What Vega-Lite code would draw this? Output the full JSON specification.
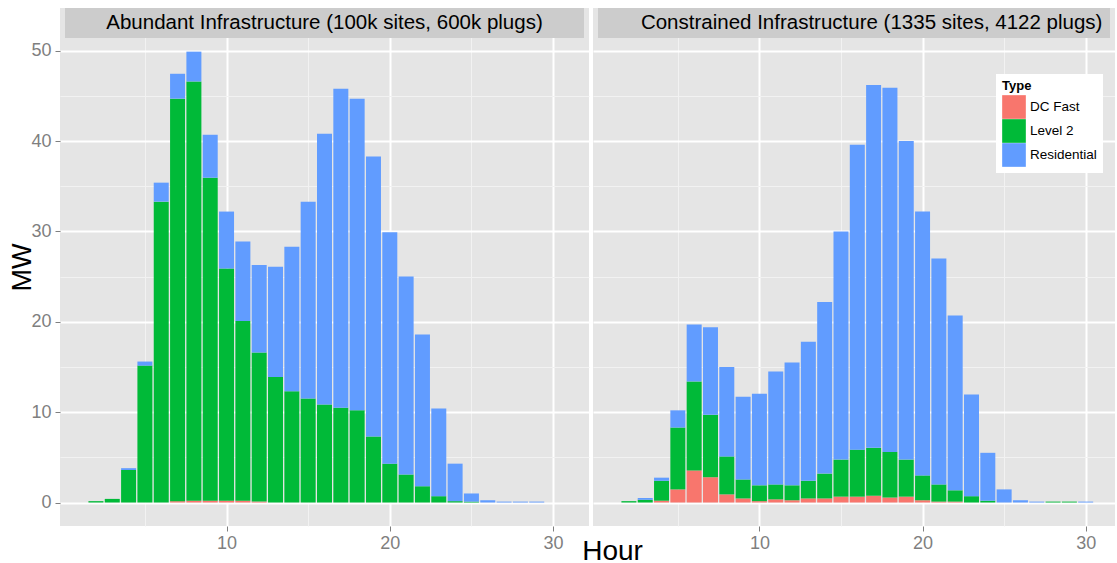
{
  "$schema": "https://vega.github.io/schema/vega-lite/v6.json",
  "background": "white",
  "padding": {"left": 8, "top": 8, "right": 0, "bottom": 0},
  "config": {
    "font": "Liberation Sans",
    "view": {"fill": "#E5E5E5", "stroke": null},
    "axis": {"domain": false, "tickColor": "#7F7F7F", "tickSize": 5, "labelColor": "#7F7F7F", "labelFontSize": 18, "labelFont": "Liberation Sans", "titleFont": "Liberation Sans", "titleFontWeight": "normal", "titleFontSize": 27, "titleColor": "black", "labelOverlap": false, "labelFlush": false}
  },
  "datasets": {
    "ev": [
      {"p": "A", "hour": 2, "type": "Level 2", "mw": 0.15},
      {"p": "A", "hour": 3, "type": "Level 2", "mw": 0.4},
      {"p": "A", "hour": 4, "type": "Level 2", "mw": 3.6},
      {"p": "A", "hour": 4, "type": "Residential", "mw": 0.2},
      {"p": "A", "hour": 5, "type": "Level 2", "mw": 15.15},
      {"p": "A", "hour": 5, "type": "Residential", "mw": 0.45},
      {"p": "A", "hour": 6, "type": "Level 2", "mw": 33.3},
      {"p": "A", "hour": 6, "type": "Residential", "mw": 2.1},
      {"p": "A", "hour": 7, "type": "DC Fast", "mw": 0.15},
      {"p": "A", "hour": 7, "type": "Level 2", "mw": 44.55},
      {"p": "A", "hour": 7, "type": "Residential", "mw": 2.75},
      {"p": "A", "hour": 8, "type": "DC Fast", "mw": 0.2},
      {"p": "A", "hour": 8, "type": "Level 2", "mw": 46.4},
      {"p": "A", "hour": 8, "type": "Residential", "mw": 3.3},
      {"p": "A", "hour": 9, "type": "DC Fast", "mw": 0.2},
      {"p": "A", "hour": 9, "type": "Level 2", "mw": 35.75},
      {"p": "A", "hour": 9, "type": "Residential", "mw": 4.75},
      {"p": "A", "hour": 10, "type": "DC Fast", "mw": 0.2},
      {"p": "A", "hour": 10, "type": "Level 2", "mw": 25.7},
      {"p": "A", "hour": 10, "type": "Residential", "mw": 6.3},
      {"p": "A", "hour": 11, "type": "DC Fast", "mw": 0.2},
      {"p": "A", "hour": 11, "type": "Level 2", "mw": 19.9},
      {"p": "A", "hour": 11, "type": "Residential", "mw": 8.8},
      {"p": "A", "hour": 12, "type": "DC Fast", "mw": 0.1},
      {"p": "A", "hour": 12, "type": "Level 2", "mw": 16.5},
      {"p": "A", "hour": 12, "type": "Residential", "mw": 9.7},
      {"p": "A", "hour": 13, "type": "Level 2", "mw": 13.9},
      {"p": "A", "hour": 13, "type": "Residential", "mw": 12.2},
      {"p": "A", "hour": 14, "type": "Level 2", "mw": 12.3},
      {"p": "A", "hour": 14, "type": "Residential", "mw": 16.0},
      {"p": "A", "hour": 15, "type": "Level 2", "mw": 11.5},
      {"p": "A", "hour": 15, "type": "Residential", "mw": 21.8},
      {"p": "A", "hour": 16, "type": "Level 2", "mw": 10.85},
      {"p": "A", "hour": 16, "type": "Residential", "mw": 29.95},
      {"p": "A", "hour": 17, "type": "Level 2", "mw": 10.5},
      {"p": "A", "hour": 17, "type": "Residential", "mw": 35.3},
      {"p": "A", "hour": 18, "type": "Level 2", "mw": 10.2},
      {"p": "A", "hour": 18, "type": "Residential", "mw": 34.5},
      {"p": "A", "hour": 19, "type": "Level 2", "mw": 7.3},
      {"p": "A", "hour": 19, "type": "Residential", "mw": 31.0},
      {"p": "A", "hour": 20, "type": "Level 2", "mw": 4.3},
      {"p": "A", "hour": 20, "type": "Residential", "mw": 25.6},
      {"p": "A", "hour": 21, "type": "Level 2", "mw": 3.1},
      {"p": "A", "hour": 21, "type": "Residential", "mw": 21.9},
      {"p": "A", "hour": 22, "type": "Level 2", "mw": 1.8},
      {"p": "A", "hour": 22, "type": "Residential", "mw": 16.8},
      {"p": "A", "hour": 23, "type": "Level 2", "mw": 0.7},
      {"p": "A", "hour": 23, "type": "Residential", "mw": 9.7},
      {"p": "A", "hour": 24, "type": "Level 2", "mw": 0.15},
      {"p": "A", "hour": 24, "type": "Residential", "mw": 4.15},
      {"p": "A", "hour": 25, "type": "Level 2", "mw": 0.1},
      {"p": "A", "hour": 25, "type": "Residential", "mw": 0.9},
      {"p": "A", "hour": 26, "type": "Residential", "mw": 0.25},
      {"p": "A", "hour": 27, "type": "Residential", "mw": 0.1},
      {"p": "A", "hour": 28, "type": "Residential", "mw": 0.1},
      {"p": "A", "hour": 29, "type": "Residential", "mw": 0.1},
      {"p": "C", "hour": 2, "type": "Level 2", "mw": 0.15},
      {"p": "C", "hour": 3, "type": "Level 2", "mw": 0.3},
      {"p": "C", "hour": 3, "type": "Residential", "mw": 0.2},
      {"p": "C", "hour": 4, "type": "DC Fast", "mw": 0.2},
      {"p": "C", "hour": 4, "type": "Level 2", "mw": 2.2},
      {"p": "C", "hour": 4, "type": "Residential", "mw": 0.35},
      {"p": "C", "hour": 5, "type": "DC Fast", "mw": 1.45},
      {"p": "C", "hour": 5, "type": "Level 2", "mw": 6.85},
      {"p": "C", "hour": 5, "type": "Residential", "mw": 1.9},
      {"p": "C", "hour": 6, "type": "DC Fast", "mw": 3.55},
      {"p": "C", "hour": 6, "type": "Level 2", "mw": 9.85},
      {"p": "C", "hour": 6, "type": "Residential", "mw": 6.3},
      {"p": "C", "hour": 7, "type": "DC Fast", "mw": 2.8},
      {"p": "C", "hour": 7, "type": "Level 2", "mw": 6.9},
      {"p": "C", "hour": 7, "type": "Residential", "mw": 9.7},
      {"p": "C", "hour": 8, "type": "DC Fast", "mw": 0.9},
      {"p": "C", "hour": 8, "type": "Level 2", "mw": 4.2},
      {"p": "C", "hour": 8, "type": "Residential", "mw": 9.9},
      {"p": "C", "hour": 9, "type": "DC Fast", "mw": 0.45},
      {"p": "C", "hour": 9, "type": "Level 2", "mw": 2.1},
      {"p": "C", "hour": 9, "type": "Residential", "mw": 9.15},
      {"p": "C", "hour": 10, "type": "DC Fast", "mw": 0.15},
      {"p": "C", "hour": 10, "type": "Level 2", "mw": 1.75},
      {"p": "C", "hour": 10, "type": "Residential", "mw": 10.15},
      {"p": "C", "hour": 11, "type": "DC Fast", "mw": 0.35},
      {"p": "C", "hour": 11, "type": "Level 2", "mw": 1.65},
      {"p": "C", "hour": 11, "type": "Residential", "mw": 12.5},
      {"p": "C", "hour": 12, "type": "DC Fast", "mw": 0.25},
      {"p": "C", "hour": 12, "type": "Level 2", "mw": 1.65},
      {"p": "C", "hour": 12, "type": "Residential", "mw": 13.6},
      {"p": "C", "hour": 13, "type": "DC Fast", "mw": 0.45},
      {"p": "C", "hour": 13, "type": "Level 2", "mw": 1.95},
      {"p": "C", "hour": 13, "type": "Residential", "mw": 15.4},
      {"p": "C", "hour": 14, "type": "DC Fast", "mw": 0.45},
      {"p": "C", "hour": 14, "type": "Level 2", "mw": 2.75},
      {"p": "C", "hour": 14, "type": "Residential", "mw": 19.0},
      {"p": "C", "hour": 15, "type": "DC Fast", "mw": 0.65},
      {"p": "C", "hour": 15, "type": "Level 2", "mw": 4.1},
      {"p": "C", "hour": 15, "type": "Residential", "mw": 25.25},
      {"p": "C", "hour": 16, "type": "DC Fast", "mw": 0.65},
      {"p": "C", "hour": 16, "type": "Level 2", "mw": 5.2},
      {"p": "C", "hour": 16, "type": "Residential", "mw": 33.75},
      {"p": "C", "hour": 17, "type": "DC Fast", "mw": 0.75},
      {"p": "C", "hour": 17, "type": "Level 2", "mw": 5.3},
      {"p": "C", "hour": 17, "type": "Residential", "mw": 40.15},
      {"p": "C", "hour": 18, "type": "DC Fast", "mw": 0.55},
      {"p": "C", "hour": 18, "type": "Level 2", "mw": 5.05},
      {"p": "C", "hour": 18, "type": "Residential", "mw": 40.3},
      {"p": "C", "hour": 19, "type": "DC Fast", "mw": 0.65},
      {"p": "C", "hour": 19, "type": "Level 2", "mw": 4.1},
      {"p": "C", "hour": 19, "type": "Residential", "mw": 35.25},
      {"p": "C", "hour": 20, "type": "DC Fast", "mw": 0.25},
      {"p": "C", "hour": 20, "type": "Level 2", "mw": 2.75},
      {"p": "C", "hour": 20, "type": "Residential", "mw": 29.2},
      {"p": "C", "hour": 21, "type": "DC Fast", "mw": 0.1},
      {"p": "C", "hour": 21, "type": "Level 2", "mw": 1.9},
      {"p": "C", "hour": 21, "type": "Residential", "mw": 25.0},
      {"p": "C", "hour": 22, "type": "DC Fast", "mw": 0.1},
      {"p": "C", "hour": 22, "type": "Level 2", "mw": 1.25},
      {"p": "C", "hour": 22, "type": "Residential", "mw": 19.35},
      {"p": "C", "hour": 23, "type": "Level 2", "mw": 0.7},
      {"p": "C", "hour": 23, "type": "Residential", "mw": 11.25},
      {"p": "C", "hour": 24, "type": "Level 2", "mw": 0.2},
      {"p": "C", "hour": 24, "type": "Residential", "mw": 5.3},
      {"p": "C", "hour": 25, "type": "Residential", "mw": 1.45},
      {"p": "C", "hour": 26, "type": "Residential", "mw": 0.25},
      {"p": "C", "hour": 27, "type": "Residential", "mw": 0.1},
      {"p": "C", "hour": 28, "type": "Level 2", "mw": 0.1},
      {"p": "C", "hour": 29, "type": "Level 2", "mw": 0.1},
      {"p": "C", "hour": 30, "type": "Residential", "mw": 0.1}
    ]
  },
  "hconcat": [
    {
      "width": 529,
      "height": 518,
      "layer": [
        {
          "data": {"name": "ev"},
          "transform": [{"filter": "datum.p === 'A'"}],
          "mark": {"type": "bar", "width": 15},
          "encoding": {
            "x": {"field": "hour", "type": "quantitative", "scale": {"domain": [0.105, 31.895], "nice": false, "zero": false},
              "axis": {"title": "Hour", "titleX": 552, "titleY": 33, "titleBaseline": "alphabetic", "titleAnchor": null, "titleAlign": "center", "titleFontSize": 28,
                "values": [5, 10, 15, 20, 25, 30], "labelExpr": "datum.value % 10 === 0 ? datum.label : ''", "labelPadding": 3,
                "tickOpacity": {"condition": {"test": "datum.value % 10 === 0", "value": 1}, "value": 0},
                "gridColor": {"condition": {"test": "datum.value % 10 === 0", "value": "#FFFFFF"}, "value": "#F2F2F2"},
                "gridWidth": {"condition": {"test": "datum.value % 10 === 0", "value": 2}, "value": 1}}},
            "y": {"field": "mw", "type": "quantitative", "stack": "zero", "scale": {"domain": [-2.6, 54.73], "nice": false, "zero": false},
              "axis": {"title": "MW", "titlePadding": -6, "labelPadding": 4,
                "values": [0, 5, 10, 15, 20, 25, 30, 35, 40, 45, 50], "labelExpr": "datum.value % 10 === 0 ? datum.label : ''",
                "tickOpacity": {"condition": {"test": "datum.value % 10 === 0", "value": 1}, "value": 0},
                "gridColor": {"condition": {"test": "datum.value % 10 === 0", "value": "#FFFFFF"}, "value": "#F2F2F2"},
                "gridWidth": {"condition": {"test": "datum.value % 10 === 0", "value": 2}, "value": 1}}},
            "color": {"field": "type", "type": "nominal", "scale": {"domain": ["DC Fast", "Level 2", "Residential"], "range": ["#F8766D", "#00BA38", "#619CFF"]}, "legend": null},
            "order": {"field": "type", "sort": "ascending"}
          }
        },
        {
          "data": {"values": [{"label": "Abundant Infrastructure (100k sites, 600k plugs)"}]},
          "mark": {"type": "rect", "color": "#CCCCCC"},
          "encoding": {
            "x": {"datum": 0.105, "type": "quantitative"}, "x2": {"datum": 31.895},
            "y": {"datum": 51.42, "type": "quantitative"}, "y2": {"datum": 54.73}
          }
        },
        {
          "data": {"values": [{"label": "Abundant Infrastructure (100k sites, 600k plugs)"}]},
          "mark": {"type": "text", "fontSize": 20.5, "baseline": "middle", "align": "center", "color": "black", "font": "Liberation Sans"},
          "encoding": {
            "x": {"datum": 16, "type": "quantitative"},
            "y": {"datum": 53.05, "type": "quantitative"},
            "text": {"field": "label"}
          }
        }
      ]
    },
    {
      "width": 522,
      "height": 518,
      "layer": [
        {
          "data": {"name": "ev"},
          "transform": [{"filter": "datum.p === 'C'"}],
          "mark": {"type": "bar", "width": 15},
          "encoding": {
            "x": {"field": "hour", "type": "quantitative", "scale": {"domain": [0.105, 31.49], "nice": false, "zero": false},
              "axis": {"title": null,
                "values": [5, 10, 15, 20, 25, 30], "labelExpr": "datum.value % 10 === 0 ? datum.label : ''", "labelPadding": 3,
                "tickOpacity": {"condition": {"test": "datum.value % 10 === 0", "value": 1}, "value": 0},
                "gridColor": {"condition": {"test": "datum.value % 10 === 0", "value": "#FFFFFF"}, "value": "#F2F2F2"},
                "gridWidth": {"condition": {"test": "datum.value % 10 === 0", "value": 2}, "value": 1}}},
            "y": {"field": "mw", "type": "quantitative", "stack": "zero", "scale": {"domain": [-2.6, 54.73], "nice": false, "zero": false},
              "axis": {"title": null, "labels": false, "ticks": false,
                "values": [0, 5, 10, 15, 20, 25, 30, 35, 40, 45, 50],
                "gridColor": {"condition": {"test": "datum.value % 10 === 0", "value": "#FFFFFF"}, "value": "#F2F2F2"},
                "gridWidth": {"condition": {"test": "datum.value % 10 === 0", "value": 2}, "value": 1}}},
            "color": {"field": "type", "type": "nominal", "scale": {"domain": ["DC Fast", "Level 2", "Residential"], "range": ["#F8766D", "#00BA38", "#619CFF"]},
              "legend": {"title": "Type", "orient": "none", "legendX": 403, "legendY": 66, "fillColor": "white", "padding": 6,
                "symbolType": "square", "symbolSize": 560, "symbolStrokeWidth": 0, "symbolOpacity": 1, "rowPadding": 0,
                "labelFontSize": 13.5, "labelColor": "black", "labelOffset": 4, "labelFont": "Liberation Sans",
                "titleFontSize": 13, "titleFontWeight": "bold", "titleColor": "black", "titlePadding": 2, "titleFont": "Liberation Sans"}},
            "order": {"field": "type", "sort": "ascending"}
          }
        },
        {
          "data": {"values": [{"label": "Constrained Infrastructure (1335 sites, 4122 plugs)"}]},
          "mark": {"type": "rect", "color": "#CCCCCC"},
          "encoding": {
            "x": {"datum": 0.105, "type": "quantitative"}, "x2": {"datum": 31.49},
            "y": {"datum": 51.42, "type": "quantitative"}, "y2": {"datum": 54.73}
          }
        },
        {
          "data": {"values": [{"label": "Constrained Infrastructure (1335 sites, 4122 plugs)"}]},
          "mark": {"type": "text", "fontSize": 20.5, "baseline": "middle", "align": "center", "color": "black", "font": "Liberation Sans"},
          "encoding": {
            "x": {"datum": 16.88, "type": "quantitative"},
            "y": {"datum": 53.05, "type": "quantitative"},
            "text": {"field": "label"}
          }
        }
      ]
    }
  ],
  "spacing": 4,
  "bounds": "flush",
  "resolve": {"scale": {"x": "independent", "y": "independent", "color": "independent"}}
}
